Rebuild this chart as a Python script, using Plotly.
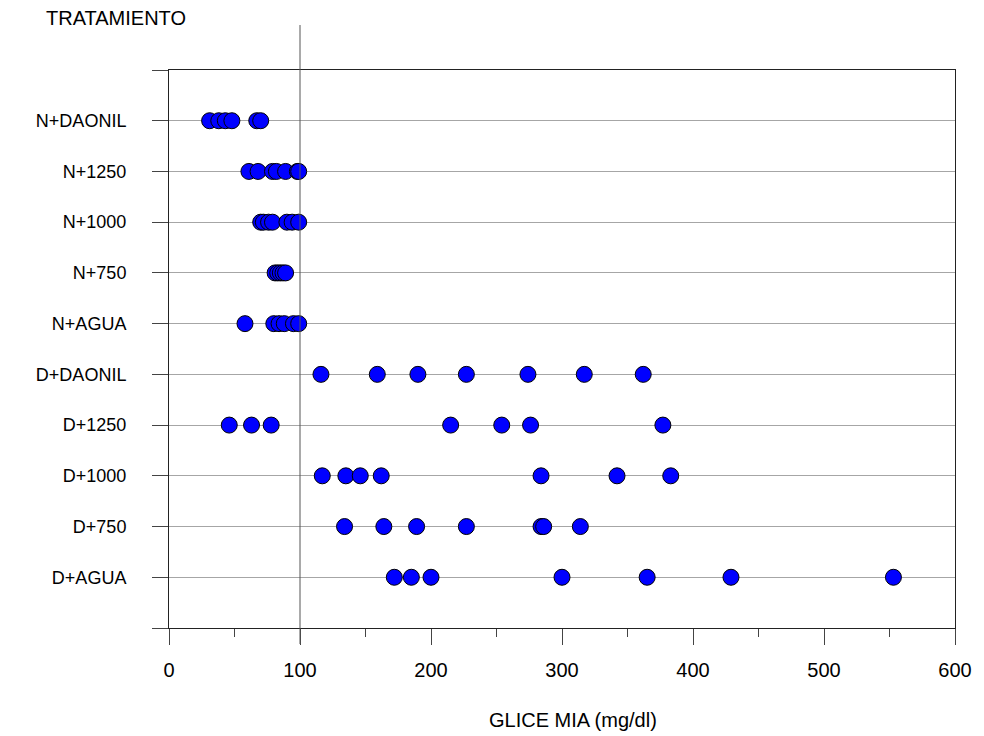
import plotly.graph_objects as go

categories = ["D+AGUA", "D+750", "D+1000", "D+1250", "D+DAONIL",
              "N+AGUA", "N+750", "N+1000", "N+1250", "N+DAONIL"]

values = {
    "D+AGUA":   [172, 185, 200, 300, 365, 429, 553],
    "D+750":    [134, 164, 189, 227, 284, 286, 314],
    "D+1000":   [117, 135, 146, 162, 284, 342, 383],
    "D+1250":   [46, 63, 78, 215, 254, 276, 377],
    "D+DAONIL": [116, 159, 190, 227, 274, 317, 362],
    "N+AGUA":   [58, 80, 84, 88, 95, 99],
    "N+750":    [81, 83, 85, 87, 89],
    "N+1000":   [70, 72, 76, 79, 90, 94, 99],
    "N+1250":   [61, 68, 79, 82, 89, 98, 99],
    "N+DAONIL": [31, 38, 43, 48, 67, 70],
}

ref_value = 100
x_ticks = [0, 100, 200, 300, 400, 500, 600]

xs, ys = [], []
for i, c in enumerate(categories):
    for v in values[c]:
        xs.append(v)
        ys.append(i + 1)

fig = go.Figure()
fig.add_trace(go.Scatter(
    x=xs, y=ys, mode="markers",
    marker=dict(size=16, color="#0000ff", line=dict(color="#000000", width=1)),
    showlegend=False, hoverinfo="x+y",
))

fig.add_shape(type="line", xref="x", yref="paper",
              x0=ref_value, x1=ref_value, y0=-0.0287, y1=1.0806,
              line=dict(color="#555555", width=1), layer="above")

tickvals = list(range(0, len(categories) + 2))
ticktext = [""] + categories + [""]

font_family = "Arial, Liberation Sans, sans-serif"
PW = 984 - 169 - 19

fig.update_layout(
    width=984, height=736,
    margin=dict(l=169, r=19, t=70, b=108),
    plot_bgcolor="white", paper_bgcolor="white",
    font=dict(family=font_family, color="#000000"),
    xaxis=dict(
        range=[0, 600], tickvals=x_ticks, ticks="outside", ticklen=16,
        tickcolor="#444444", tickwidth=1,
        showline=True, linecolor="#222222", linewidth=1, mirror=True,
        showgrid=False, zeroline=False,
        tickfont=dict(size=20, family=font_family, color="#000000"),
        ticklabelstandoff=8,
        ticklabeloverflow="allow",
        minor=dict(dtick=50, tick0=0, ticks="outside", ticklen=8,
                   tickcolor="#444444", showgrid=False),
    ),
    yaxis=dict(
        range=[0, len(categories) + 1], tickvals=tickvals, ticktext=ticktext,
        ticks="outside", ticklen=16, tickcolor="#444444", tickwidth=1,
        showline=True, linecolor="#222222", linewidth=1, mirror=True,
        showgrid=True, gridcolor="#a6a6a6", gridwidth=1, zeroline=False,
        tickfont=dict(size=18, family=font_family, color="#000000"),
        ticklabelstandoff=22,
    ),
    annotations=[
        dict(text="TRATAMIENTO", xref="paper", yref="paper",
             x=(42 - 169)/PW, y=1 + (70 - 18)/558, xanchor="left", yanchor="middle",
             showarrow=False, font=dict(size=20, family=font_family, color="#000000")),
        dict(text="GLICE MIA (mg/dl)", xref="paper", yref="paper",
             x=(578 - 169)/PW, y=-(720 - 628)/558, xanchor="center", yanchor="middle",
             showarrow=False, font=dict(size=20, family=font_family, color="#000000")),
    ],
)

fig.write_html("out.html")
